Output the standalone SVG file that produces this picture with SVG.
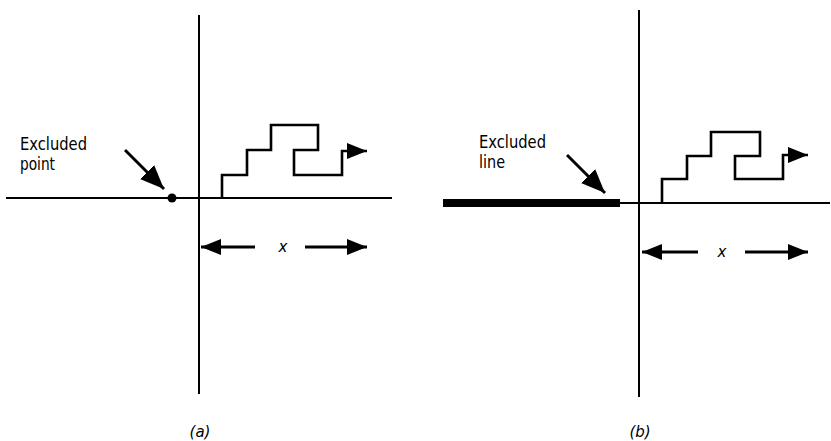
<svg xmlns="http://www.w3.org/2000/svg" width="831" height="441" viewBox="0 0 831 441">
  <style>
    .axis { stroke: #000; stroke-width: 2; fill: none; }
    .walk { stroke: #000; stroke-width: 2.6; fill: none; stroke-linejoin: miter; }
    .arr { stroke: #000; stroke-width: 3; fill: none; }
    .lbl { font-family: "DejaVu Sans", "Liberation Sans", sans-serif; font-size: 17px; fill: #000; }
    .var { font-family: "DejaVu Sans", "Liberation Sans", sans-serif; font-size: 15px; font-style: italic; fill: #000; }
  </style>
  <defs>
    <marker id="head" viewBox="0 0 20 16" refX="20" refY="8" markerWidth="20" markerHeight="16" markerUnits="userSpaceOnUse" orient="auto">
      <path d="M0,0 L20,8 L0,16 Z" fill="#000"/>
    </marker>
    <marker id="headL" viewBox="0 0 24 20" refX="24" refY="10" markerWidth="24" markerHeight="20" markerUnits="userSpaceOnUse" orient="auto">
      <path d="M0,0 L24,10 L0,20 Z" fill="#000"/>
    </marker>
  </defs>

  <!-- panel (a): excluded point -->
  <g id="panel-a-axes">
    <line class="axis" x1="199" y1="15" x2="199" y2="394"/>
    <line class="axis" x1="6" y1="198" x2="392" y2="198"/>
  </g>
  <g id="panel-a-point">
    <circle cx="172" cy="198" r="4.5" fill="#000"/>
  </g>
  <g id="panel-a-label">
    <text class="lbl" x="20" y="150" textLength="67" lengthAdjust="spacingAndGlyphs">Excluded</text>
    <text class="lbl" x="20" y="170" textLength="35" lengthAdjust="spacingAndGlyphs">point</text>
  </g>
  <g id="panel-a-caption">
    <text class="var" x="200" y="437" text-anchor="middle">(a)</text>
  </g>

  <!-- panel (b): excluded line -->
  <g id="panel-b-axes">
    <line class="axis" x1="639" y1="10" x2="639" y2="397"/>
    <line class="axis" x1="618" y1="203" x2="830" y2="203"/>
  </g>
  <g id="panel-b-line">
    <line x1="443" y1="203" x2="620" y2="203" stroke="#000" stroke-width="8"/>
  </g>
  <g id="panel-b-label">
    <text class="lbl" x="479" y="148" textLength="67" lengthAdjust="spacingAndGlyphs">Excluded</text>
    <text class="lbl" x="479" y="168" textLength="26" lengthAdjust="spacingAndGlyphs">line</text>
  </g>
  <g id="panel-b-caption">
    <text class="var" x="640" y="437" text-anchor="middle">(b)</text>
  </g>

  <!-- connectors: pointer arrows, random walks, range arrows -->
  <g id="connectors">
    <line class="arr" x1="125" y1="150" x2="164" y2="189" marker-end="url(#headL)"/>
    <line class="arr" x1="567" y1="155" x2="605" y2="193" marker-end="url(#headL)"/>

    <path class="walk" d="M222,198 V175 H247 V150 H271 V125 H318 V150 H294 V175 H342 V151 H367" marker-end="url(#head)"/>
    <path class="walk" d="M662,203 V179 H687 V156 H711 V132 H760 V156 H735 V179 H783 V155 H808" marker-end="url(#head)"/>

    <line class="arr" x1="255" y1="247" x2="201" y2="247" marker-end="url(#head)"/>
    <line class="arr" x1="305" y1="247" x2="367" y2="247" marker-end="url(#head)"/>
    <line class="arr" x1="698" y1="252" x2="642" y2="252" marker-end="url(#head)"/>
    <line class="arr" x1="745" y1="252" x2="808" y2="252" marker-end="url(#head)"/>
  </g>

  <g id="range-labels">
    <text class="var" x="283" y="252" text-anchor="middle">x</text>
    <text class="var" x="722" y="257" text-anchor="middle">x</text>
  </g>
</svg>
